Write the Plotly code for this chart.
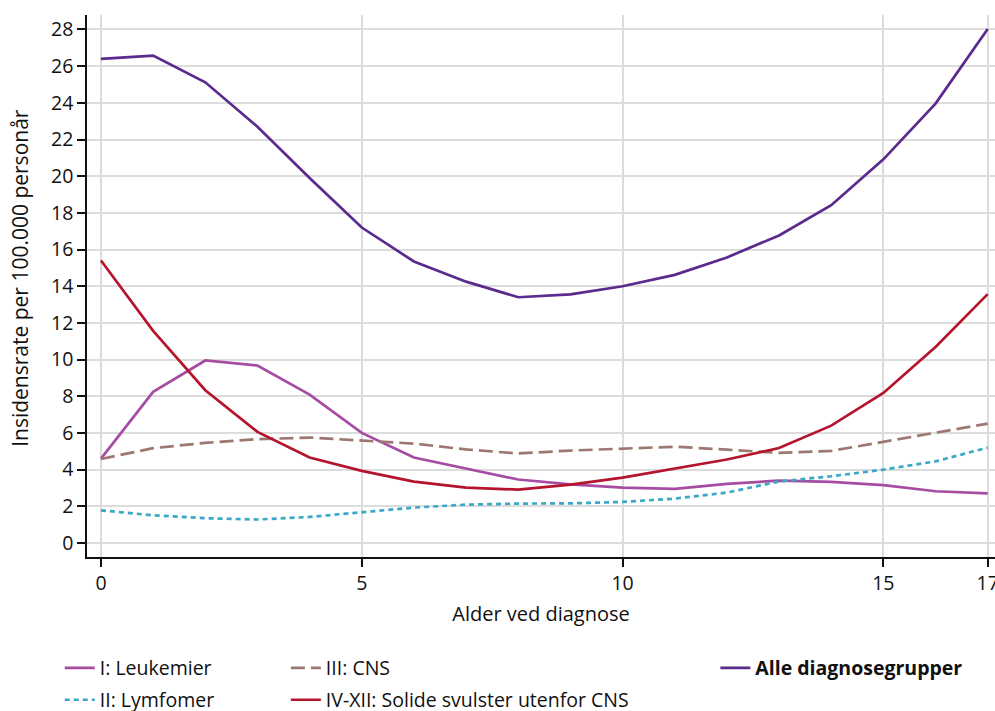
import plotly.graph_objects as go

ages = list(range(18))
leukemi = [4.6, 8.24, 9.95, 9.68, 8.09, 6.0, 4.66, 4.06, 3.46, 3.2, 3.02, 2.95, 3.22, 3.4, 3.33, 3.16, 2.82, 2.71]
lymfom = [1.78, 1.51, 1.35, 1.28, 1.42, 1.69, 1.93, 2.09, 2.15, 2.16, 2.24, 2.42, 2.75, 3.35, 3.64, 4.0, 4.45, 5.2]
cns = [4.58, 5.17, 5.46, 5.66, 5.75, 5.6, 5.42, 5.1, 4.88, 5.04, 5.15, 5.25, 5.09, 4.91, 5.02, 5.51, 6.02, 6.51]
solide = [15.4, 11.57, 8.33, 6.06, 4.66, 3.93, 3.35, 3.02, 2.91, 3.18, 3.56, 4.04, 4.55, 5.18, 6.4, 8.18, 10.69, 13.57]
alle = [26.4, 26.58, 25.12, 22.7, 19.9, 17.2, 15.35, 14.25, 13.4, 13.56, 14.0, 14.62, 15.57, 16.77, 18.42, 20.92, 23.96, 28.03]

x_ticks = [0, 5, 10, 15, 17]
y_ticks = list(range(0, 29, 2))

FONT = "Open Sans"
FS = 19.5

fig = go.Figure()

def add(y, name, color, dash, legend):
    fig.add_trace(go.Scatter(
        x=ages, y=y, name=name, mode="lines",
        line=dict(color=color, width=2.7, dash=dash),
        legend=legend, showlegend=True,
    ))

add(leukemi, "I: Leukemier", "#a64ca3", "solid", "legend")
add(lymfom, "II: Lymfomer", "#3aa8c6", "5px,4px", "legend2")
add(cns, "III: CNS", "#9c7870", "14px,6px", "legend3")
add(solide, "IV-XII: Solide svulster utenfor CNS", "#b5142d", "solid", "legend4")
add(alle, "<b>Alle diagnosegrupper</b>", "#5a2a8c", "solid", "legend5")

leg_common = dict(orientation="v", xanchor="left", yanchor="middle",
                  bgcolor="rgba(0,0,0,0)", font=dict(family=FONT, size=FS, color="#111"),
                  itemwidth=30)

fig.update_layout(
    width=995, height=711,
    margin=dict(l=87, r=0, t=15, b=154, autoexpand=False),
    paper_bgcolor="white", plot_bgcolor="white",
    font=dict(family=FONT, size=FS, color="#111"),
    legend=dict(x=-0.030, y=-0.205, **leg_common),
    legend2=dict(x=-0.030, y=-0.264, **leg_common),
    legend3=dict(x=0.219, y=-0.205, **leg_common),
    legend4=dict(x=0.219, y=-0.264, **leg_common),
    legend5=dict(x=0.692, y=-0.205, **leg_common),
    xaxis=dict(
        range=[-0.268, 17.14], tickvals=x_ticks, ticktext=[str(v) for v in x_ticks],
        showgrid=True, gridcolor="#dcdcdc", gridwidth=1.5,
        showline=True, linecolor="#111", linewidth=1.5,
        ticks="outside", ticklen=8, tickcolor="#111", tickwidth=1.5,
        zeroline=False, automargin=False, ticklabeloverflow="allow",
        title=dict(text="Alder ved diagnose", standoff=12, font=dict(size=20)),
        tickfont=dict(size=FS),
    ),
    yaxis=dict(
        range=[-0.764, 28.79], tickvals=y_ticks,
        showgrid=True, gridcolor="#dcdcdc", gridwidth=1.5,
        showline=True, linecolor="#111", linewidth=1.5,
        ticks="outside", ticklen=8, tickcolor="#111", tickwidth=1.5,
        zeroline=False, automargin=False,
        tickfont=dict(size=FS),
    ),
    annotations=[dict(
        text="Insidensrate per 100.000 personår", textangle=-90,
        xref="paper", yref="paper", x=-0.0738, y=0.515,
        xanchor="center", yanchor="middle", showarrow=False,
        font=dict(family=FONT, size=21, color="#111"),
    )],
)

fig.write_html(
    "out.html",
    config={"displayModeBar": False},
    post_script="document.body.style.margin='0';document.body.style.overflow='hidden';",
)
